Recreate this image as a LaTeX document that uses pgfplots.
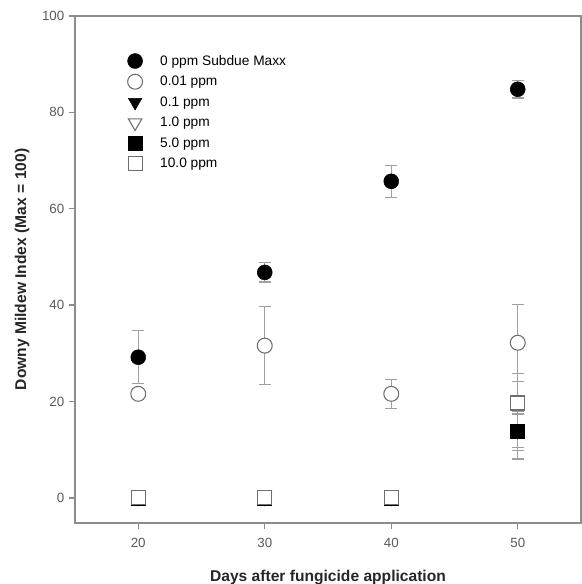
\documentclass[border=0pt]{standalone}
\usepackage{fontspec}
\setmainfont{Liberation Sans}
\usepackage{pgfplots}
\pgfplotsset{compat=1.18}
\definecolor{axgray}{HTML}{8C8C8C}
\definecolor{errgray}{HTML}{A0A0A0}
\definecolor{opengray}{HTML}{6E6E6E}
\begin{document}
\begin{tikzpicture}
\path[use as bounding box] (-56.25pt,-45.75pt) rectangle (379.5pt,392.25pt);
\begin{axis}[
  scale only axis, width=379.5pt, height=380.25pt,
  xmin=15, xmax=55, ymin=-5.2, ymax=100,
  xtick={20,30,40,50}, ytick={0,20,40,60,80,100},
  tick align=outside, tick pos=left,
  major tick length=4.5pt,
  axis line style={axgray, line width=1.2pt},
  every tick/.style={axgray, line width=1pt},
  tick label style={font=\fontsize{10}{12}\selectfont, text=black!65},
  xticklabel style={yshift=-3.5pt},
  /pgf/number format/assume math mode=true,
  xlabel={Days after fungicide application},
  ylabel={Downy Mildew Index (Max = 100)},
  every axis x label/.style={at={(axis description cs:0.5,-0.1066)}, anchor=center,
    font=\fontsize{11.7}{14}\selectfont\bfseries, text=black!85},
  every axis y label/.style={at={(axis description cs:-0.1047,0.5)}, anchor=center, rotate=90,
    font=\fontsize{11.7}{14}\selectfont\bfseries, text=black!85},
  legend style={draw=none, fill=none, at={(rel axis cs:0.0956,0.934)}, anchor=north west,
    font=\fontsize{10.3}{12}\selectfont, row sep=2.7pt},
  legend cell align=left,
  legend image code/.code={\draw[#1] plot coordinates {(0pt,0pt)}; \path[draw=none,fill=none] (0pt,0pt) (16.8pt,0pt);},
  error bars/error bar style={errgray, line width=0.9pt},
  error bars/error mark options={rotate=90, mark size=4.5pt, errgray, line width=0.9pt},
]
% 0 ppm Subdue Maxx
\addplot[only marks, mark=*, mark size=5.6pt, mark options={black, fill=black},
  error bars/.cd, y dir=both, y explicit]
  table[x=x, y=y, y error=e] {
x y e
20 29.2 5.5
30 46.8 2.0
40 65.7 3.3
50 84.8 1.8
};
\addlegendentry{0 ppm Subdue Maxx}
% 0.01 ppm
\addplot[only marks, mark=*, mark size=5.6pt, mark options={draw=opengray, fill=white, line width=0.8pt},
  error bars/.cd, y dir=both, y explicit]
  table[x=x, y=y, y error=e] {
x y e
20 21.6 1.0
30 31.6 8.1
40 21.6 3.0
50 32.2 8.0
};
\addlegendentry{0.01 ppm}
% 0.1 ppm
\addplot[only marks, mark=triangle*, mark size=5.8pt, mark options={rotate=180, black, fill=black},
  error bars/.cd, y dir=both, y explicit]
  table[x=x, y=y, y error=e] {
x y e
20 0 0
30 0 0
40 0 0
50 13.9 5.8
};
\addlegendentry{0.1 ppm}
% 1.0 ppm
\addplot[only marks, mark=triangle*, mark size=5.8pt, mark options={rotate=180, draw=opengray, fill=white, line width=0.8pt},
  error bars/.cd, y dir=both, y explicit]
  table[x=x, y=y, y error=e] {
x y e
20 0 0
30 0 0
40 0 0
50 13.9 3.5
};
\addlegendentry{1.0 ppm}
% 5.0 ppm
\addplot[only marks, mark=square*, mark size=5.25pt, mark options={black, fill=black},
  error bars/.cd, y dir=both, y explicit]
  table[x=x, y=y, y error=e] {
x y e
20 0 0
30 0 0
40 0 0
50 13.9 4.0
};
\addlegendentry{5.0 ppm}
% 10.0 ppm
\addplot[only marks, mark=square*, mark size=5.25pt, mark options={draw=opengray, fill=white, line width=0.8pt},
  error bars/.cd, y dir=both, y explicit]
  table[x=x, y=y, y error=e] {
x y e
20 0 0
30 0 0
40 0 0
50 19.7 6.1
};
\addlegendentry{10.0 ppm}
\draw[axgray, line width=1.2pt] (rel axis cs:0,1) -- (rel axis cs:1,1) -- (rel axis cs:1,0);
\end{axis}
\end{tikzpicture}
\end{document}
